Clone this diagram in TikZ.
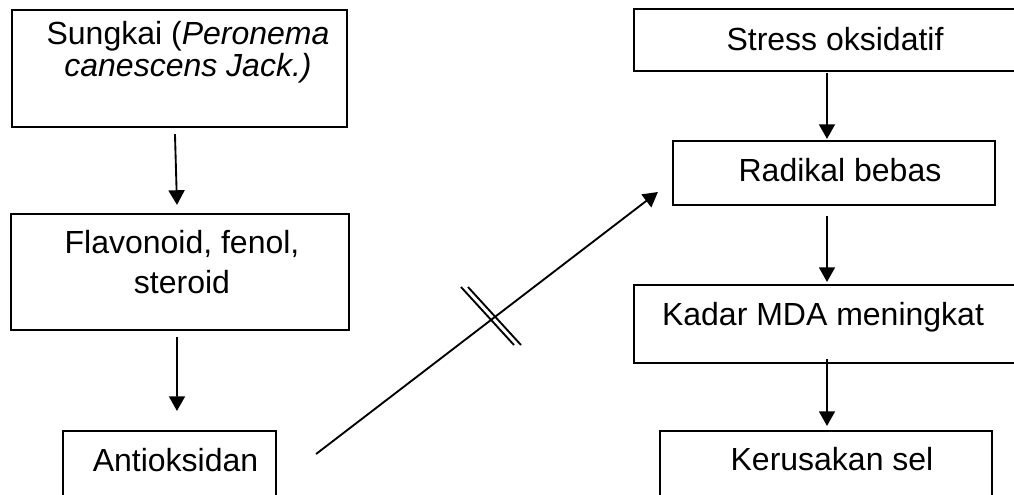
\documentclass[tikz,border=0pt]{standalone}
\usepackage{fontspec}
\setmainfont{Liberation Sans}
\usetikzlibrary{arrows.meta}

\begin{document}
\begin{tikzpicture}[x=0.75pt, y=-0.75pt,
    box/.style={draw, line width=1.6pt, rectangle, inner sep=0pt},
    txt/.style={anchor=base, align=center, inner sep=0pt,
                font=\fontsize{24pt}{20.8pt}\selectfont},
    arr/.style={line width=1.4pt, -{Triangle[length=11pt, width=12pt]}}]
    \clip (0,0) rectangle (1014,494);
    % left column
    \node[box, minimum width=251.25pt, minimum height=87.75pt] (sungkai) at (179.5,68.5) {};
    \node[box, minimum width=253.5pt, minimum height=87pt] (senyawa) at (180,272) {};
    \node[box, minimum width=159.75pt, minimum height=60pt] (antiox) at (169.5,471) {};
    \node[txt] (tsungkai) at (188,76) {Sungkai (\textit{Peronema}\\\textit{canescens Jack.)}};
    \node[txt] (tsenyawa) at (182,293) {Flavonoid, fenol,\\[9pt]steroid};
    \node[txt] (tantiox) at (175.5,471.7) {Antioksidan};
    % right column
    \node[box, minimum width=297pt, minimum height=46.5pt] (stress) at (832,40) {};
    \node[box, minimum width=241.5pt, minimum height=48pt] (radikal) at (834,173) {};
    \node[box, minimum width=297pt, minimum height=58.5pt] (mda) at (832,324) {};
    \node[box, minimum width=249pt, minimum height=60pt] (rusak) at (826,471) {};
    \node[txt] (tstress) at (835,50) {Stress oksidatif};
    \node[txt] (tradikal) at (840,181.7) {Radikal bebas};
    \node[txt] (tmda) at (823,325) {Kadar MDA meningkat};
    \node[txt] (trusak) at (832,470.7) {Kerusakan sel};
    % arrows
    \draw[arr] ([xshift=-3.4pt,yshift=-4.5pt]sungkai.south) -- ([xshift=-2.25pt,yshift=6pt]senyawa.north);
    \draw[arr] ([xshift=-2.25pt,yshift=-4.5pt]senyawa.south) -- ([xshift=5.6pt,yshift=14.25pt]antiox.north);
    \draw[arr] ([xshift=29.25pt,yshift=12.75pt]antiox.east) -- ([xshift=-10.5pt,yshift=-14.25pt]radikal.west);
    \draw[arr] ([xshift=-3.75pt,yshift=-0.75pt]stress.south) -- ([xshift=-5.25pt,yshift=0.75pt]radikal.north);
    \draw[arr] ([xshift=-5.25pt,yshift=-7.5pt]radikal.south) -- ([xshift=-3.75pt,yshift=1.5pt]mda.north);
    \draw[arr] ([xshift=-3.75pt,yshift=3.75pt]mda.south) -- ([xshift=0.75pt,yshift=3pt]rusak.north);
    % hambat
    \draw[line width=1.4pt] (461,287) -- (514,345);
    \draw[line width=1.4pt] (468,287) -- (521,345);
\end{tikzpicture}
\end{document}
